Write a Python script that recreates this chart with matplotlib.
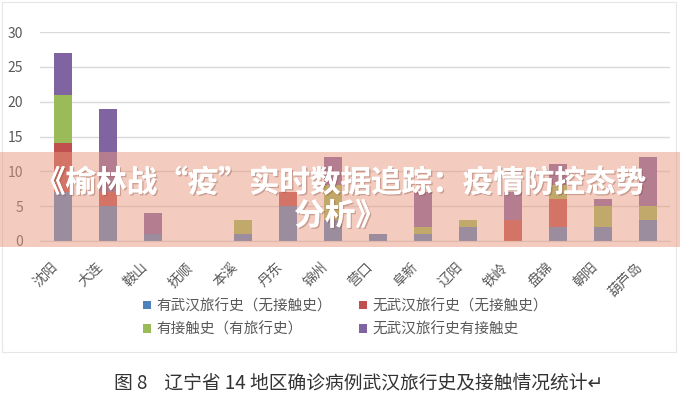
import matplotlib
matplotlib.use("Agg")
import matplotlib.pyplot as plt
import matplotlib.patheffects as pe
import matplotlib.transforms as mtransforms
import numpy as np
from matplotlib.patches import Rectangle

plt.rcParams["font.family"] = ["Noto Sans CJK SC", "DejaVu Sans"]

cities = ["沈阳", "大连", "鞍山", "抚顺", "本溪", "丹东", "锦州",
          "营口", "阜新", "辽阳", "铁岭", "盘锦", "朝阳", "葫芦岛"]
travel_no_contact = [7, 5, 1, 0, 1, 5, 3, 1, 1, 2, 0, 2, 2, 3]
no_travel_no_contact = [7, 2, 0, 0, 0, 2, 0, 0, 0, 0, 3, 4, 0, 0]
contact_with_travel = [7, 0, 0, 0, 2, 0, 5, 0, 1, 1, 0, 2, 3, 2]
no_travel_contact = [6, 12, 3, 0, 0, 0, 4, 0, 5, 0, 4, 3, 1, 7]

series = [
    ("有武汉旅行史（无接触史）", travel_no_contact, "#4F81BD"),
    ("无武汉旅行史（无接触史）", no_travel_no_contact, "#C0504D"),
    ("有接触史（有旅行史）", contact_with_travel, "#9BBB59"),
    ("无武汉旅行史有接触史", no_travel_contact, "#8064A2"),
]

fig = plt.figure(figsize=(6.8, 4.0), dpi=100)
fig.patches.append(Rectangle((2 / 680, 1 - 352 / 400), 674 / 680, 350 / 400,
                             transform=fig.transFigure, fill=False,
                             edgecolor="#E6E6E6", linewidth=0.8, zorder=0))
ax = fig.add_axes([40 / 680, 1 - 241 / 400, 630 / 680, 209 / 400])

x = np.arange(len(cities))
bottom = np.zeros(len(cities))
handles = []
for label, vals, color in series:
    b = ax.bar(x, vals, width=0.4, bottom=bottom, color=color, label=label, zorder=2)
    handles.append(b)
    bottom += np.array(vals)

ax.set_xlim(-0.5, len(cities) - 0.5)
ax.set_ylim(0, 30)
ax.set_yticks([0, 5, 10, 15, 20, 25, 30])
ax.yaxis.grid(True, color="#D9D9D9", linewidth=1, zorder=0)
ax.set_axisbelow(True)
for s in ["top", "right", "left"]:
    ax.spines[s].set_visible(False)
ax.spines["bottom"].set_color("#D9D9D9")
ax.tick_params(axis="y", length=0, pad=12, labelsize=10, labelcolor="#595959")
ax.tick_params(axis="x", length=0, pad=8)
ax.set_xticks(x)
ax.set_xticklabels(cities, rotation=45, ha="right", va="top",
                   rotation_mode="anchor", fontsize=10, color="#595959")
shift = mtransforms.ScaledTranslation(-12 / 100, -8 / 100, fig.dpi_scale_trans)
for lbl in ax.get_xticklabels():
    lbl.set_transform(lbl.get_transform() + shift)

# row-major legend order like the original
order = [0, 2, 1, 3]
fig.legend(handles=[handles[i] for i in order], loc="center",
           bbox_to_anchor=(0.508, 1 - 318 / 400),
           ncol=2, frameon=False, fontsize=10.5, labelcolor="#595959",
           handlelength=0.55, handleheight=0.55, handletextpad=0.35,
           columnspacing=1.9, labelspacing=0.65)

fig.text(0.528, 1 - 383 / 400,
         "图 8    辽宁省 14 地区确诊病例武汉旅行史及接触情况统计↵",
         ha="center", va="center", fontsize=13.5, color="#333333")

# translucent title band on top of the chart
fig.patches.append(Rectangle((0, 1 - 247 / 400), 1, 95 / 400,
                             transform=fig.transFigure, facecolor=(0.91, 0.6, 0.5),
                             alpha=0.5, edgecolor="none", zorder=10))
shadow = [pe.withSimplePatchShadow(offset=(1, -1), shadow_rgbFace=(0.5, 0.3, 0.25),
                                   alpha=0.35), pe.Normal()]
fig.text(0.5, 1 - 183 / 400, "《榆林战“疫”实时数据追踪：疫情防控态势",
         ha="center", va="center", fontsize=22, fontweight="heavy",
         color="white", zorder=11, path_effects=shadow)
fig.text(0.5, 1 - 216 / 400, "分析》",
         ha="center", va="center", fontsize=22, fontweight="heavy",
         color="white", zorder=11, path_effects=shadow)

fig.savefig("out.png", dpi=100)
